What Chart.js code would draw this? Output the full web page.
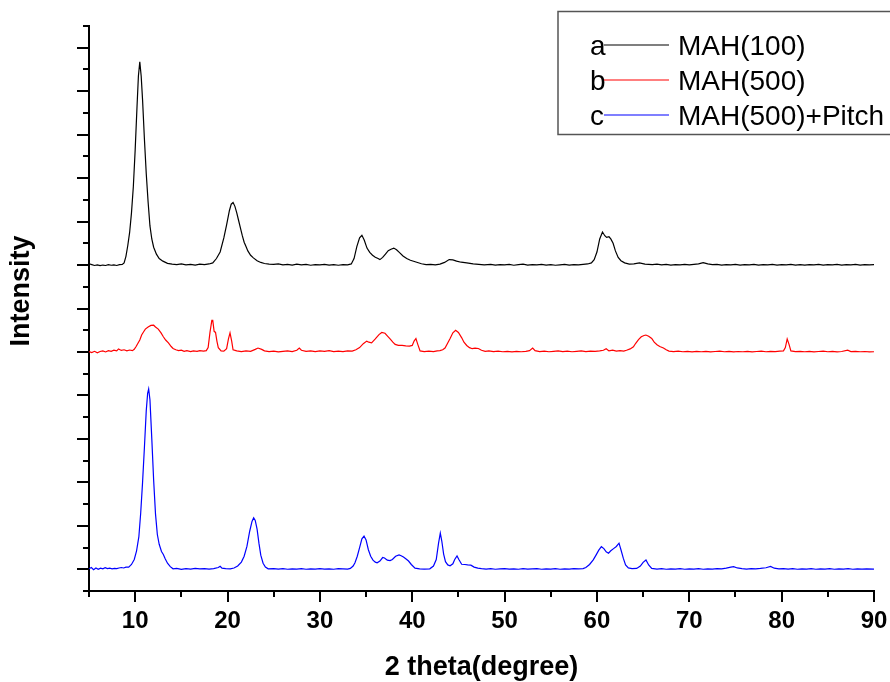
<!DOCTYPE html>
<html>
<head>
<meta charset="utf-8">
<script src="https://cdn.jsdelivr.net/npm/chart.js@4/dist/chart.umd.min.js"></script>
<style>
  body { margin: 0; background: #fff; }
</style>
</head>
<body>
<canvas id="xrd" width="890" height="682"></canvas>
<script>
// series names and legend tags
const seriesNames = ["MAH(100)", "MAH(500)", "MAH(500)+Pitch"];
const seriesTags = ["a", "b", "c"];
const seriesColors = ["#000000", "#ff0000", "#0000ff"];
// vertical shift of each pattern (stacked plot)
const seriesOffsets = [14, 10, 0];

// x ticks (2 theta)
const xLabelTicks = [10, 20, 30, 40, 50, 60, 70, 80, 90];
const xAllTicks = [5, 10, 15, 20, 25, 30, 35, 40, 45, 50, 55, 60, 65, 70, 75, 80, 85, 90];
// y ticks (no labels)
const yAllTicks = [-1, 0, 1, 2, 3, 4, 5, 6, 7, 8, 9, 10, 11, 12, 13, 14, 15, 16, 17, 18, 19, 20, 21, 22, 23, 24, 25];

// a: MAH(100)
const patternA = [
  [5.0, 0.06], [5.3, 0.02], [5.6, -0.02], [5.9, 0.01], [6.2, -0.03], [6.5, 0.0], [6.8, -0.02], [7.1, 0.02],
  [7.4, -0.01], [7.7, 0.01], [8.0, -0.02], [8.3, 0.02], [8.6, 0.03], [8.8, 0.1], [9.0, 0.4], [9.2, 0.9],
  [9.4, 1.5], [9.6, 2.4], [9.8, 3.6], [10.0, 5.3], [10.2, 7.3], [10.35, 8.7], [10.5, 9.35], [10.65, 8.7],
  [10.8, 7.6], [11.0, 5.8], [11.2, 4.2], [11.4, 2.9], [11.6, 1.8], [11.8, 1.2], [12.0, 0.82], [12.3, 0.5],
  [12.6, 0.3], [13.0, 0.18], [13.5, 0.08], [14.0, 0.04], [14.5, 0.02], [15.0, 0.05], [15.5, 0.01], [16.0, 0.03],
  [16.5, 0.0], [17.0, 0.04], [17.5, 0.02], [18.0, 0.05], [18.4, 0.1], [18.8, 0.3], [19.2, 0.6], [19.6, 1.25],
  [19.9, 1.85], [20.2, 2.5], [20.4, 2.8], [20.6, 2.88], [20.8, 2.7], [21.0, 2.4], [21.2, 2.05], [21.4, 1.7],
  [21.6, 1.35], [21.8, 1.05], [22.0, 0.85], [22.2, 0.65], [22.5, 0.45], [22.8, 0.33], [23.2, 0.2], [23.6, 0.12],
  [24.0, 0.07], [24.5, 0.04], [25.0, 0.03], [25.5, 0.05], [26.0, 0.01], [26.5, 0.03], [27.0, 0.0], [27.5, 0.04],
  [28.0, 0.01], [28.5, 0.03], [29.0, -0.01], [29.5, 0.02], [30.0, 0.01], [30.5, 0.03], [31.0, 0.0], [31.5, 0.02],
  [32.0, -0.01], [32.5, 0.02], [33.0, 0.01], [33.4, 0.05], [33.7, 0.3], [34.0, 0.85], [34.3, 1.25], [34.55, 1.37],
  [34.8, 1.15], [35.1, 0.78], [35.4, 0.58], [35.7, 0.45], [36.0, 0.36], [36.3, 0.3], [36.5, 0.25], [36.8, 0.35],
  [37.1, 0.5], [37.4, 0.66], [37.7, 0.73], [38.0, 0.78], [38.3, 0.7], [38.6, 0.58], [39.0, 0.42], [39.4, 0.3],
  [39.8, 0.22], [40.4, 0.14], [41.0, 0.06], [41.5, 0.02], [42.0, 0.03], [42.5, 0.01], [43.0, 0.04], [43.5, 0.12],
  [44.0, 0.25], [44.4, 0.24], [44.8, 0.18], [45.3, 0.13], [45.9, 0.1], [46.6, 0.05], [47.2, 0.03], [47.8, 0.01],
  [48.5, 0.03], [49.0, 0.0], [49.5, 0.02], [50.0, 0.01], [50.5, 0.03], [51.0, -0.01], [51.5, 0.02], [52.0, 0.04],
  [52.5, 0.0], [53.0, 0.02], [53.5, 0.01], [54.0, 0.03], [54.5, 0.0], [55.0, 0.02], [55.5, -0.01], [56.0, 0.01],
  [56.5, 0.03], [57.0, 0.0], [57.5, 0.02], [58.0, 0.01], [58.5, 0.03], [59.0, 0.05], [59.4, 0.1], [59.7, 0.25],
  [60.0, 0.6], [60.3, 1.2], [60.6, 1.52], [60.85, 1.35], [61.05, 1.27], [61.3, 1.3], [61.5, 1.2], [61.75, 1.0],
  [62.0, 0.65], [62.3, 0.35], [62.6, 0.2], [63.0, 0.1], [63.5, 0.04], [64.0, 0.05], [64.6, 0.1], [65.2, 0.04],
  [66.0, 0.02], [66.5, 0.04], [67.0, 0.01], [67.5, 0.03], [68.0, 0.0], [68.5, 0.02], [69.0, 0.01], [69.5, 0.03],
  [70.0, 0.01], [70.5, 0.03], [71.0, 0.05], [71.5, 0.11], [72.0, 0.05], [72.5, 0.02], [73.0, 0.03], [73.5, 0.0],
  [74.0, 0.02], [74.5, 0.01], [75.0, 0.03], [75.5, 0.0], [76.0, 0.02], [76.5, 0.01], [77.0, 0.03], [77.5, 0.0],
  [78.0, 0.02], [78.5, 0.01], [79.0, 0.03], [79.5, 0.0], [80.0, 0.02], [80.5, 0.01], [81.0, 0.03], [81.5, 0.0],
  [82.0, 0.02], [82.5, 0.0], [83.0, 0.02], [83.5, 0.01], [84.0, 0.03], [84.5, 0.0], [85.0, 0.02], [85.5, 0.01],
  [86.0, 0.03], [86.5, 0.0], [87.0, 0.02], [87.5, 0.01], [88.0, 0.03], [88.5, 0.0], [89.0, 0.02], [89.5, 0.01],
  [90.0, 0.02]
];

// b: MAH(500)
const patternB = [
  [5.0, 0.02], [5.3, -0.03], [5.6, 0.03], [5.9, -0.04], [6.2, 0.02], [6.5, 0.05], [6.8, 0.0], [7.1, 0.06],
  [7.4, 0.03], [7.7, 0.08], [8.0, 0.05], [8.2, 0.14], [8.5, 0.07], [8.8, 0.1], [9.1, 0.05], [9.4, 0.09],
  [9.7, 0.06], [9.9, 0.12], [10.1, 0.25], [10.3, 0.4], [10.5, 0.55], [10.7, 0.78], [10.9, 0.92], [11.1, 1.05],
  [11.4, 1.15], [11.7, 1.22], [12.0, 1.23], [12.2, 1.15], [12.5, 1.05], [12.8, 0.88], [13.05, 0.7], [13.3, 0.55],
  [13.6, 0.42], [13.9, 0.25], [14.1, 0.16], [14.4, 0.1], [14.7, 0.06], [15.0, 0.08], [15.3, 0.03], [15.6, 0.06],
  [16.0, 0.02], [16.3, 0.05], [16.7, 0.03], [17.0, 0.06], [17.4, 0.04], [17.7, 0.06], [17.9, 0.2], [18.1, 0.9],
  [18.3, 1.45], [18.4, 1.45], [18.55, 0.95], [18.7, 0.9], [18.85, 0.5], [19.0, 0.2], [19.3, 0.05], [19.6, 0.04],
  [19.9, 0.15], [20.1, 0.6], [20.27, 0.88], [20.45, 0.5], [20.6, 0.1], [21.0, 0.05], [21.5, 0.02], [22.0, 0.05],
  [22.5, 0.03], [23.0, 0.12], [23.3, 0.18], [23.7, 0.12], [24.0, 0.05], [24.5, 0.02], [25.0, 0.04], [25.5, 0.0],
  [26.0, 0.03], [26.5, 0.05], [27.0, 0.02], [27.5, 0.08], [27.77, 0.18], [28.0, 0.08], [28.5, 0.03], [29.0, 0.05],
  [29.5, 0.02], [30.0, 0.05], [30.5, 0.03], [31.0, 0.06], [31.5, 0.02], [32.0, 0.04], [32.5, 0.02], [33.0, 0.05],
  [33.5, 0.04], [33.9, 0.1], [34.3, 0.2], [34.7, 0.38], [35.07, 0.5], [35.3, 0.45], [35.6, 0.42], [36.0, 0.6],
  [36.4, 0.8], [36.7, 0.9], [37.05, 0.86], [37.35, 0.72], [37.6, 0.6], [37.9, 0.45], [38.15, 0.35], [38.5, 0.3],
  [38.9, 0.3], [39.3, 0.28], [39.7, 0.27], [40.0, 0.3], [40.2, 0.5], [40.4, 0.62], [40.6, 0.35], [40.85, 0.05],
  [41.3, 0.02], [41.8, 0.04], [42.3, 0.02], [42.7, 0.05], [43.0, 0.06], [43.3, 0.1], [43.55, 0.18], [43.8, 0.38],
  [44.1, 0.62], [44.4, 0.88], [44.7, 1.0], [45.0, 0.9], [45.36, 0.65], [45.6, 0.45], [45.9, 0.3], [46.2, 0.2],
  [46.5, 0.15], [46.8, 0.18], [47.16, 0.16], [47.5, 0.08], [47.9, 0.03], [48.3, 0.05], [48.8, 0.02], [49.3, 0.04],
  [49.8, 0.01], [50.3, 0.03], [50.8, 0.0], [51.3, 0.03], [51.8, 0.01], [52.3, 0.03], [52.7, 0.06], [53.04, 0.18],
  [53.3, 0.06], [53.8, 0.02], [54.3, 0.04], [54.8, 0.01], [55.3, 0.03], [55.8, 0.05], [56.3, 0.02], [56.8, 0.04],
  [57.3, 0.01], [57.8, 0.03], [58.3, 0.05], [58.8, 0.02], [59.3, 0.04], [59.8, 0.03], [60.3, 0.05], [60.7, 0.08],
  [61.0, 0.15], [61.3, 0.05], [61.7, 0.08], [62.1, 0.04], [62.5, 0.06], [62.9, 0.04], [63.2, 0.08], [63.6, 0.14],
  [63.95, 0.24], [64.2, 0.4], [64.5, 0.57], [64.8, 0.7], [65.1, 0.76], [65.3, 0.78], [65.6, 0.72], [65.93, 0.62],
  [66.2, 0.45], [66.5, 0.33], [66.8, 0.25], [67.2, 0.18], [67.5, 0.1], [67.8, 0.04], [68.3, 0.02], [68.8, 0.04],
  [69.3, 0.01], [69.8, 0.03], [70.3, 0.0], [70.8, 0.03], [71.3, 0.01], [71.8, 0.03], [72.3, 0.0], [72.8, 0.02],
  [73.3, 0.04], [73.8, 0.01], [74.3, 0.03], [74.8, 0.0], [75.3, 0.02], [75.8, 0.01], [76.3, 0.03], [76.8, 0.0],
  [77.3, 0.02], [77.8, 0.04], [78.3, 0.01], [78.8, 0.03], [79.3, 0.02], [79.8, 0.04], [80.2, 0.05], [80.4, 0.2],
  [80.6, 0.6], [80.8, 0.35], [81.0, 0.05], [81.5, 0.02], [82.0, 0.03], [82.5, 0.01], [83.0, 0.03], [83.5, 0.0],
  [84.0, 0.02], [84.5, 0.04], [85.0, 0.01], [85.5, 0.03], [86.0, 0.0], [86.5, 0.02], [87.15, 0.08], [87.5, 0.02],
  [88.0, 0.03], [88.5, 0.01], [89.0, 0.02], [89.5, 0.0], [90.0, 0.01]
];

// c: MAH(500)+Pitch
const patternC = [
  [5.0, 0.02], [5.25, 0.08], [5.5, -0.02], [5.75, 0.06], [6.0, 0.0], [6.25, 0.05], [6.5, 0.02], [6.75, 0.07],
  [7.0, 0.03], [7.25, 0.05], [7.5, 0.02], [7.75, 0.04], [8.0, 0.03], [8.25, 0.06], [8.5, 0.08], [8.75, 0.06],
  [9.0, 0.1], [9.3, 0.1], [9.6, 0.22], [9.9, 0.45], [10.15, 0.85], [10.4, 1.5], [10.6, 2.6], [10.8, 4.0],
  [11.0, 5.6], [11.2, 7.3], [11.35, 8.1], [11.46, 8.3], [11.6, 7.8], [11.8, 6.0], [12.0, 4.1], [12.2, 2.55],
  [12.4, 1.6], [12.6, 1.15], [12.85, 0.82], [13.05, 0.68], [13.25, 0.48], [13.5, 0.28], [13.8, 0.12], [14.1, 0.02],
  [14.5, 0.04], [15.0, 0.0], [15.5, 0.03], [16.0, 0.01], [16.5, 0.04], [17.0, 0.02], [17.5, 0.03], [18.0, 0.01],
  [18.5, 0.03], [19.0, 0.08], [19.2, 0.14], [19.4, 0.05], [19.8, 0.03], [20.3, 0.02], [20.7, 0.06], [21.1, 0.15],
  [21.5, 0.33], [21.8, 0.6], [22.1, 1.05], [22.4, 1.75], [22.65, 2.2], [22.83, 2.37], [23.0, 2.25], [23.2, 1.85],
  [23.4, 1.2], [23.6, 0.65], [23.85, 0.28], [24.1, 0.1], [24.4, 0.02], [25.0, 0.03], [25.5, 0.01], [26.0, 0.03],
  [26.5, 0.0], [27.0, 0.02], [27.5, 0.01], [28.0, 0.03], [28.5, 0.0], [29.0, 0.02], [29.5, 0.01], [30.0, 0.03],
  [30.5, 0.01], [31.0, 0.02], [31.5, 0.0], [32.0, 0.03], [32.5, 0.02], [33.0, 0.01], [33.3, 0.04], [33.6, 0.15],
  [33.8, 0.3], [34.05, 0.6], [34.3, 1.0], [34.55, 1.4], [34.78, 1.53], [35.0, 1.35], [35.25, 0.9], [35.5, 0.6],
  [35.75, 0.42], [36.0, 0.33], [36.2, 0.3], [36.5, 0.38], [36.8, 0.54], [37.0, 0.52], [37.3, 0.42], [37.6, 0.4],
  [37.85, 0.45], [38.2, 0.6], [38.57, 0.66], [38.8, 0.62], [39.05, 0.56], [39.3, 0.48], [39.6, 0.38], [39.9, 0.22],
  [40.3, 0.05], [40.8, 0.02], [41.3, 0.01], [41.9, 0.02], [42.3, 0.15], [42.6, 0.45], [42.85, 1.2], [43.04, 1.66],
  [43.2, 1.3], [43.4, 0.7], [43.6, 0.35], [43.85, 0.2], [44.1, 0.16], [44.4, 0.25], [44.6, 0.45], [44.85, 0.61],
  [45.05, 0.45], [45.35, 0.23], [45.7, 0.22], [46.0, 0.2], [46.35, 0.19], [46.7, 0.1], [47.1, 0.05], [47.5, 0.03],
  [48.0, 0.01], [48.5, 0.03], [49.0, 0.0], [49.5, 0.02], [50.0, 0.03], [50.5, 0.01], [51.0, 0.02], [51.5, 0.0],
  [52.0, 0.03], [52.5, 0.01], [53.0, 0.02], [53.5, 0.03], [54.0, 0.0], [54.5, 0.02], [55.0, 0.01], [55.5, 0.03],
  [56.0, 0.0], [56.5, 0.02], [57.0, 0.01], [57.5, 0.03], [58.0, 0.02], [58.5, 0.03], [58.8, 0.08], [59.2, 0.22],
  [59.6, 0.43], [59.9, 0.65], [60.2, 0.88], [60.48, 1.04], [60.75, 0.95], [61.0, 0.8], [61.25, 0.74], [61.5, 0.85],
  [61.8, 0.95], [62.1, 1.05], [62.39, 1.2], [62.6, 0.9], [62.86, 0.5], [63.1, 0.2], [63.4, 0.06], [63.8, 0.03],
  [64.3, 0.04], [64.7, 0.15], [65.0, 0.32], [65.31, 0.43], [65.6, 0.2], [65.93, 0.04], [66.5, 0.01], [67.0, 0.03],
  [67.5, 0.0], [68.0, 0.02], [68.5, 0.01], [69.0, 0.03], [69.5, 0.0], [70.0, 0.02], [70.5, 0.01], [71.0, 0.03],
  [71.5, 0.0], [72.0, 0.02], [72.5, 0.01], [73.0, 0.03], [73.5, 0.02], [74.0, 0.05], [74.5, 0.1], [74.8, 0.12],
  [75.2, 0.06], [75.7, 0.03], [76.2, 0.01], [76.7, 0.03], [77.2, 0.02], [77.7, 0.04], [78.3, 0.07], [78.8, 0.13],
  [79.2, 0.05], [79.7, 0.02], [80.2, 0.03], [80.7, 0.01], [81.2, 0.03], [81.7, 0.0], [82.2, 0.02], [82.7, 0.01],
  [83.2, 0.03], [83.7, 0.0], [84.2, 0.02], [84.7, 0.01], [85.2, 0.03], [85.7, 0.0], [86.2, 0.02], [86.7, 0.01],
  [87.2, 0.03], [87.7, 0.0], [88.2, 0.02], [88.7, 0.01], [89.2, 0.02], [90.0, 0.01]
];

const patterns = [patternA, patternB, patternC];

const FONT = "'Liberation Sans', Arial, sans-serif";

const datasets = patterns.map((pts, i) => ({
  label: seriesNames[i],
  data: pts.map(p => ({ x: p[0], y: p[1] + seriesOffsets[i] })),
  borderColor: seriesColors[i],
  backgroundColor: seriesColors[i],
  borderWidth: 1.2,
  pointRadius: 0,
  tension: 0,
  fill: false,
}));

// tick marks: long on major, short on minor, pointing outwards
const tickMarks = {
  id: "tickMarks",
  afterDraw(chart) {
    const { ctx, chartArea, scales } = chart;
    ctx.save();
    ctx.strokeStyle = "#000";
    ctx.lineWidth = 2;
    yAllTicks.forEach(v => {
      const py = Math.round(scales.y.getPixelForValue(v));
      const len = v % 2 === 0 ? 12 : 6;
      ctx.beginPath();
      ctx.moveTo(chartArea.left - len, py);
      ctx.lineTo(chartArea.left, py);
      ctx.stroke();
    });
    xAllTicks.forEach(v => {
      const px = Math.round(scales.x.getPixelForValue(v));
      const len = v % 10 === 0 ? 11 : 6;
      ctx.beginPath();
      ctx.moveTo(px, chartArea.bottom);
      ctx.lineTo(px, chartArea.bottom + len);
      ctx.stroke();
    });
    ctx.restore();
  },
};

// y title and the boxed legend (a — MAH(100) ...)
const extras = {
  id: "extras",
  afterDraw(chart) {
    const { ctx } = chart;
    ctx.save();
    ctx.fillStyle = "#000";
    ctx.font = "bold 27px " + FONT;
    ctx.textAlign = "center";
    ctx.textBaseline = "middle";
    ctx.translate(22, 291);
    ctx.rotate(-Math.PI / 2);
    ctx.fillText("Intensity", 0, 0);
    ctx.restore();

    ctx.save();
    ctx.strokeStyle = "#555";
    ctx.lineWidth = 1.5;
    ctx.strokeRect(558, 11.5, 340, 123);
    ctx.font = "28px " + FONT;
    ctx.textBaseline = "alphabetic";
    seriesNames.forEach((name, i) => {
      const base = 55 + i * 35;
      ctx.fillStyle = "#000";
      ctx.textAlign = "left";
      ctx.fillText(seriesTags[i], 590, base);
      ctx.strokeStyle = seriesColors[i];
      ctx.lineWidth = 1.2;
      ctx.beginPath();
      ctx.moveTo(604, base - 10);
      ctx.lineTo(669, base - 10);
      ctx.stroke();
      ctx.fillText(name, 678, base);
    });
    ctx.restore();
  },
};

const config = {
  type: "line",
  data: { datasets: datasets },
  options: {
    responsive: false,
    animation: false,
    layout: { padding: { top: 26, right: 16, left: 0, bottom: 0 } },
    plugins: {
      legend: { display: false },
      tooltip: { enabled: false },
    },
    scales: {
      x: {
        type: "linear",
        min: 5,
        max: 90,
        grid: { display: false, drawTicks: false },
        border: { display: true, color: "#000", width: 2 },
        afterBuildTicks: scale => {
          scale.ticks = xLabelTicks.map(v => ({ value: v }));
        },
        afterFit: scale => {
          scale.height = 91;
          scale.paddingLeft = 0;
          scale.paddingRight = 0;
        },
        ticks: {
          autoSkip: false,
          maxRotation: 0,
          padding: 16,
          color: "#000",
          font: { family: FONT, size: 24, weight: "bold" },
        },
        title: {
          display: true,
          text: "2 theta(degree)",
          color: "#000",
          font: { family: FONT, size: 27, weight: "bold", lineHeight: 1 },
          padding: { top: 0, bottom: 1 },
        },
      },
      y: {
        type: "linear",
        min: -1,
        max: 25,
        grid: { display: false, drawTicks: false },
        border: { display: true, color: "#000", width: 2 },
        ticks: { display: false },
        afterFit: scale => {
          scale.width = 89;
        },
      },
    },
  },
  plugins: [tickMarks, extras],
};

const ctxXrd = document.getElementById("xrd").getContext("2d");
const xrdChart = new Chart(ctxXrd, config);
</script>
</body>
</html>
